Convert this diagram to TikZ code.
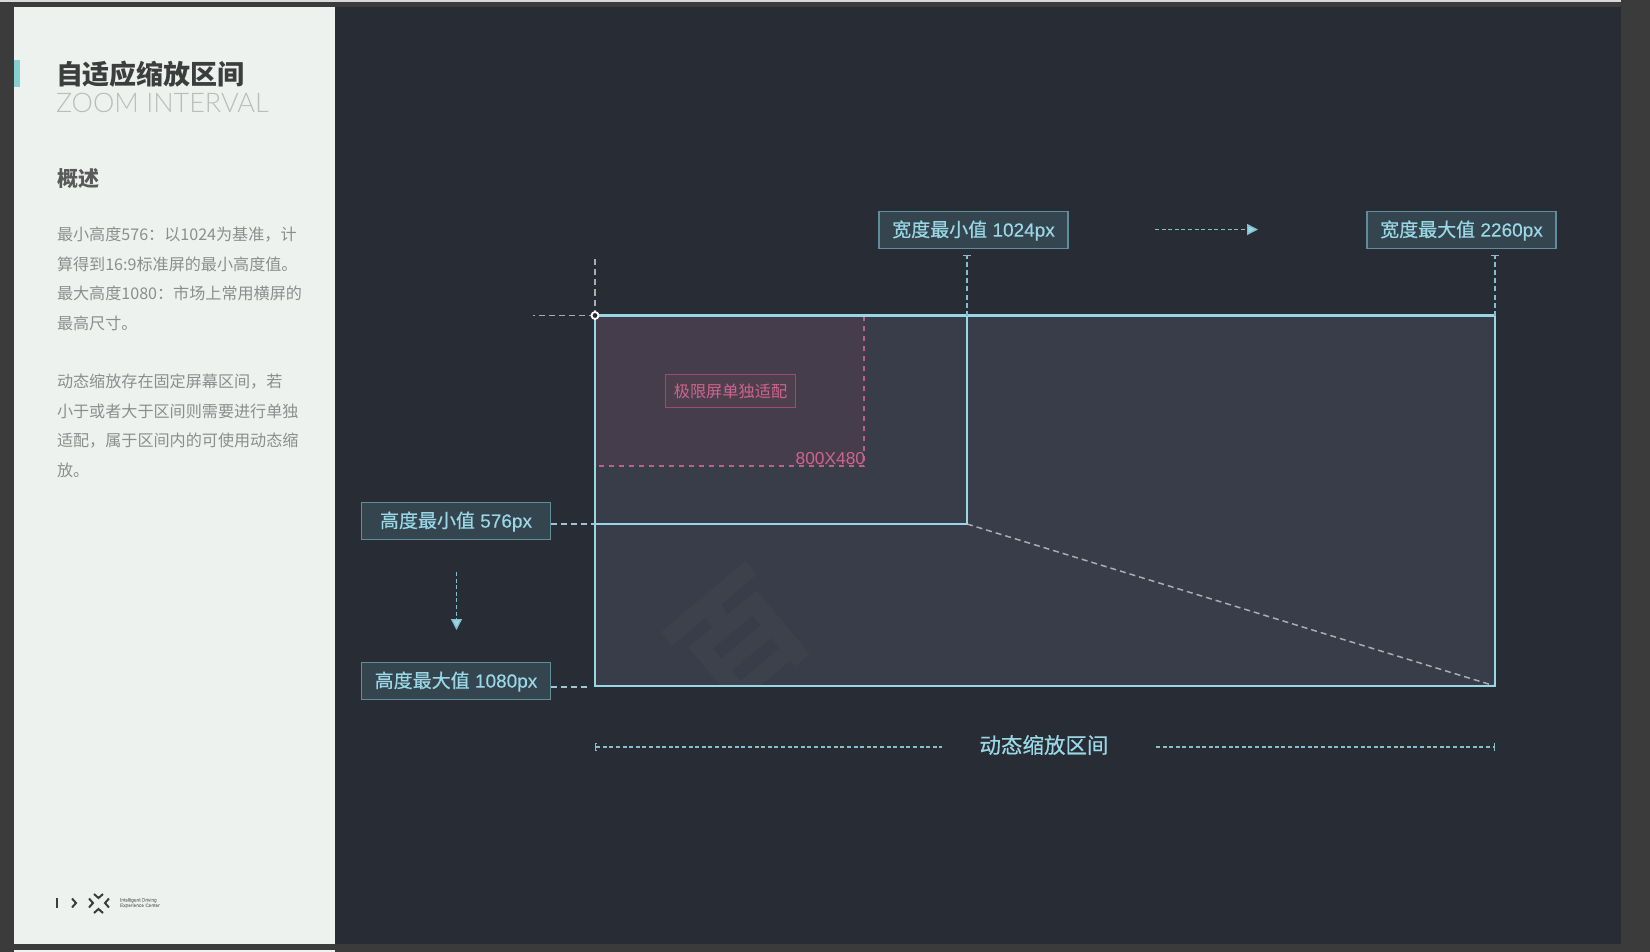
\documentclass[tikz,border=0pt]{standalone}
\usepackage{fontspec}
\setmainfont{Liberation Sans}
\newfontfamily\cjk{Noto Sans CJK SC}
\newfontfamily\cjkm[FakeBold=0.5]{Noto Sans CJK SC}
\newfontfamily\latm[FakeBold=0.3]{Liberation Sans}
\newfontfamily\latolight{Lato Light}
\newcommand{\zhm}[1]{{\cjkm #1}}
\definecolor{frameC}{HTML}{3A3B3A}
\definecolor{mainC}{HTML}{282C35}
\definecolor{panelC}{HTML}{EEF2EF}
\definecolor{accentC}{HTML}{88D0D0}
\definecolor{lineC}{HTML}{98D8E6}
\definecolor{textC}{HTML}{9AD8E6}
\definecolor{areaC}{HTML}{393D49}
\definecolor{pinkArea}{HTML}{463D4C}
\definecolor{pinkC}{HTML}{CC648F}
\definecolor{pinkEdge}{HTML}{9C4C72}
\definecolor{pinkBox}{HTML}{4E3F4F}
\definecolor{boxC}{HTML}{35454F}
\definecolor{boxEdge}{HTML}{5F8D99}
\definecolor{greyDash}{HTML}{A9ADB2}
\definecolor{bodyC}{HTML}{8C8E8E}
\definecolor{titleC}{HTML}{3C3D3D}
\definecolor{subC}{HTML}{B9BDBC}
\definecolor{markC}{HTML}{3D414C}
\usetikzlibrary{arrows.meta}
\tikzset{
  x=1pt,y=-1pt,
  every node/.style={inner sep=0pt,outer sep=0pt},
  valuebox/.style={draw=boxEdge,line width=1.4pt,fill=boxC,text=textC,font=\latm\fontsize{19}{20}\selectfont,minimum height=37pt,minimum width=189pt,text height=16.8pt,text depth=3.6pt},
  pinkbox/.style={draw=pinkEdge,line width=1.2pt,fill=pinkBox,text=pinkC,font=\cjk\fontsize{16.2}{18}\selectfont,minimum width=130pt,minimum height=33pt,text height=16pt,text depth=2.5pt},
  edgeline/.style={draw=lineC,line width=2.6pt},
  cyandash/.style={draw=lineC!85!mainC,line width=1.5pt,dash pattern=on 5pt off 3pt},
  greydash/.style={draw=greyDash,line width=1.5pt,dash pattern=on 6pt off 4pt},
  pinkdash/.style={draw=pinkC!90!areaC,line width=1.4pt,dash pattern=on 5pt off 5pt},
  finedash/.style={draw=lineC!85!mainC,line width=1.4pt,dash pattern=on 4pt off 2.6pt},
  bodytext/.style={anchor=west,text=bodyC,font=\cjk\fontsize{16.1}{18}\selectfont},
  tbar/.style={-{Bar[width=8pt,length=1.5pt]}},
  flow/.style={-{Triangle[length=11pt,width=11pt,fill=lineC]}},
}
\begin{document}
\begin{tikzpicture}
\useasboundingbox (0,0) rectangle (1650,952);
\fill[frameC] (0,0) rectangle (1650,952);
\fill[white!85!black] (0,0) rectangle (1621,2);
\fill[mainC] (335,7) rectangle (1621,944);
\fill[panelC] (13.5,7) rectangle (335,944);
\fill[panelC] (13.5,950) rectangle (335,952);
\fill[accentC] (13.5,60) rectangle (20,87);
% sidebar text
\node[anchor=west,text=titleC,font=\cjk\bfseries\fontsize{27}{28}\selectfont] (title) at (56,74) {自适应缩放区间};
\node[anchor=west,text=subC,font=\latolight\fontsize{27}{30}\selectfont] (sub) at (56,103) {ZOOM INTERVAL};
\node[anchor=west,text=titleC!85!white,font=\cjk\bfseries\fontsize{21}{22}\selectfont] (ov) at (57,179) {概述};
\node[bodytext] (l1) at (57,234.5) {最小高度576：以1024为基准，计};
\node[bodytext] (l2) at (57,264) {算得到16:9标准屏的最小高度值。};
\node[bodytext] (l3) at (57,293.5) {最大高度1080：市场上常用横屏的};
\node[bodytext] (l4) at (57,323) {最高尺寸。};
\node[bodytext] (l5) at (57,382) {动态缩放存在固定屏幕区间，若};
\node[bodytext] (l6) at (57,411.5) {小于或者大于区间则需要进行单独};
\node[bodytext] (l7) at (57,441) {适配，属于区间内的可使用动态缩};
\node[bodytext] (l8) at (57,470.5) {放。};
% logo
\draw[titleC,line width=2pt] (57,898) -- (57,908);
\draw[titleC,line width=2pt] (72,898.5) -- (76,903) -- (72,907.5);
\draw[titleC,line width=2pt] (89,898.5) -- (93,903) -- (89,907.5);
\draw[titleC,line width=2pt] (109,898.5) -- (105,903) -- (109,907.5);
\draw[titleC,line width=2pt] (94,894) -- (98.5,898) -- (103,894);
\draw[titleC,line width=2pt] (94,913) -- (98.5,909) -- (103,913);
\node[anchor=west,text=bodyC,font=\latm\fontsize{4.8}{5.4}\selectfont,align=left] (brand) at (120,903) {Intelligent Driving\\Experience Center};
% main rectangles
\fill[areaC] (595,315) rectangle (1495,686);
\fill[pinkArea] (595,315) rectangle (864,466);
\begin{scope}
\clip (595,315) rectangle (1495,686);
\node[rotate=40,text=markC,font=\cjk\bfseries\fontsize{125}{130}\selectfont] (mark) at (740,640) {百};
\end{scope}
\coordinate (tl) at (595,315.5);
\coordinate (tm) at (967,315.5);
\coordinate (tr) at (1495,315.5);
\coordinate (ml) at (595,524);
\coordinate (mm) at (967,524);
\coordinate (bl) at (595,686);
\coordinate (br) at (1495,686);
\coordinate (pt) at (864,316);
\coordinate (pc) at (864,466);
\coordinate (pl) at (596,466);
\draw[pinkdash] (pt) -- (pc) -- (pl);
\draw[greydash] (mm) -- (br);
\draw[edgeline] (tl) rectangle (br);
\draw[edgeline] (ml) -- (mm) -- (tm);
\node[pinkbox] (pinknode) at (730.5,391) {极限屏单独适配};
\node[anchor=east,text=pinkC,font=\fontsize{17.3}{18}\selectfont] (size) at (865,459) {800X480};
% value boxes
\node[valuebox] (wmin) at (973.5,230) {\zhm{宽度最小值} 1024px};
\node[valuebox] (wmax) at (1461.5,230) {\zhm{宽度最大值} 2260px};
\node[valuebox] (hmin) at (456,521) {\zhm{高度最小值} 576px};
\node[valuebox] (hmax) at (456,681) {\zhm{高度最大值} 1080px};
% connectors
\coordinate (a1) at (1155,229.5);
\coordinate (a2) at (1258,229.5);
\draw[finedash,flow] (a1) -- (a2);
\coordinate (a3) at (456.5,572);
\coordinate (a4) at (456.5,630);
\draw[finedash,flow] (a3) -- (a4);
\coordinate (t1) at (967,255);
\coordinate (t2) at (1495,255);
\draw[cyandash,tbar] (tm) -- (t1);
\draw[cyandash,tbar] (tr) -- (t2);
\coordinate (c1) at (595,258);
\coordinate (c2) at (533,315.5);
\draw[greydash] (tl) -- (c1);
\draw[greydash] (tl) -- (c2);
\draw[greydash,draw=lineC!55!greyDash] (hmin.east |- ml) -- (ml);
\coordinate (h2) at (590,687);
\draw[greydash,draw=lineC!55!greyDash] (hmax.east |- h2) -- (h2);
\node[draw=white,line width=1.8pt,fill=mainC,circle,minimum size=7pt] (corner) at (tl) {};
% bottom span
\coordinate (s1) at (595,747);
\coordinate (s2) at (942,747);
\coordinate (s3) at (1156,747);
\coordinate (s4) at (1495,747);
\draw[finedash,{Bar[width=8pt,length=1.5pt]}-] (s1) -- (s2);
\draw[finedash,-{Bar[width=8pt,length=1.5pt]}] (s3) -- (s4);
\node[text=textC,font=\cjkm\fontsize{21.5}{24}\selectfont] (span) at (1044,745) {动态缩放区间};
\end{tikzpicture}
\end{document}
